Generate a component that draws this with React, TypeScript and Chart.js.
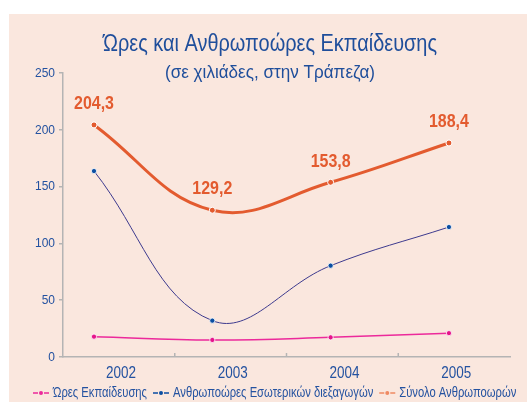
import React, { useEffect, useRef } from "react";
import { Chart, registerables } from "chart.js";

Chart.register(...registerables);

const years = ["2002", "2003", "2004", "2005"];
const hoursTraining = [17.9, 15.0, 17.3, 21.0];
const internalManHours = [163.7, 32.0, 80.4, 114.4];
const totalManHours = [204.3, 129.2, 153.8, 188.4];
const seriesNames = [
  "Ώρες Εκπαίδευσης",
  "Ανθρωποώρες Εσωτερικών διεξαγωγών",
  "Σύνολο Ανθρωποωρών",
];
const titleText = "Ώρες και Ανθρωποώρες Εκπαίδευσης";
const subtitleText = "(σε χιλιάδες, στην Τράπεζα)";
const yMin = 0;
const yMax = 250;
const yStep = 50;

const FONT = "'Liberation Sans', Arial, sans-serif";
const TEXT_BLUE = "#2452A0";
const AXIS_GRAY = "#B4B4B4";
const COLORS = {
  hours: "#EC2A9B",
  hoursPt: "#E5158A",
  internal: "#3D3A8E",
  internalPt: "#0B4EA2",
  total: "#E35B2F",
  totalLegend: "#EF8A63",
};

function narrowText(ctx: any, txt: string, x: number, y: number, sx: number, align: string) {
  ctx.save();
  ctx.translate(x, y);
  ctx.scale(sx, 1);
  ctx.textAlign = align;
  ctx.fillText(txt, 0, 0);
  ctx.restore();
}

function factorFor(ctx: any, font: string, sample: string, target: number) {
  ctx.font = font;
  return target / ctx.measureText(sample).width;
}

const decor = {
  id: "decor",
  afterDraw(chart: any) {
    const ctx = chart.ctx;
    const xs = chart.scales.x;
    const ys = chart.scales.y;
    const area = chart.chartArea;
    ctx.save();
    ctx.textBaseline = "middle";

    // title
    ctx.fillStyle = "#1F4E9B";
    let f = `23px ${FONT}`;
    let k = factorFor(ctx, f, titleText, 334);
    narrowText(ctx, titleText, 270, 45, k, "center");
    f = `18px ${FONT}`;
    k = factorFor(ctx, f, subtitleText, 210);
    narrowText(ctx, subtitleText, 270, 73, k, "center");

    // y tick labels
    ctx.fillStyle = TEXT_BLUE;
    f = `13.5px ${FONT}`;
    k = factorFor(ctx, f, "250", 20);
    ys.ticks.forEach((t: any) => {
      narrowText(ctx, String(t.value), 55, ys.getPixelForValue(t.value), k, "right");
    });

    // x tick labels
    f = `17px ${FONT}`;
    k = factorFor(ctx, f, "2002", 30);
    years.forEach((yr, i) => {
      narrowText(ctx, yr, xs.getPixelForValue(i) + 2, area.bottom + 16, k, "center");
    });

    // x tick marks between categories, pointing up
    ctx.strokeStyle = AXIS_GRAY;
    ctx.lineWidth = 1.5;
    for (let i = 0; i < years.length - 1; i++) {
      const bx = (xs.getPixelForValue(i) + xs.getPixelForValue(i + 1)) / 2;
      ctx.beginPath();
      ctx.moveTo(bx, area.bottom);
      ctx.lineTo(bx, area.bottom - 4);
      ctx.stroke();
    }

    // value labels for total
    const meta = chart.getDatasetMeta(2);
    ctx.fillStyle = COLORS.total;
    f = `bold 19px ${FONT}`;
    k = factorFor(ctx, f, "204,3", 40);
    meta.data.forEach((el: any, i: number) => {
      const txt = totalManHours[i].toFixed(1).replace(".", ",");
      narrowText(ctx, txt, el.x, el.y - 21, k, "center");
    });

    // legend
    const markerColors = [COLORS.hours, COLORS.internalPt, COLORS.totalLegend];
    f = `14px ${FONT}`;
    k = factorFor(ctx, f, seriesNames[0], 94);
    ctx.font = f;
    const widths = seriesNames.map((n) => ctx.measureText(n).width * k);
    let x = 33;
    const y = 393;
    seriesNames.forEach((n, i) => {
      const c = markerColors[i];
      ctx.strokeStyle = c;
      ctx.fillStyle = c;
      ctx.lineWidth = 1.5;
      ctx.beginPath();
      ctx.moveTo(x, y);
      ctx.lineTo(x + 5, y);
      ctx.moveTo(x + 11, y);
      ctx.lineTo(x + 16, y);
      ctx.stroke();
      ctx.beginPath();
      ctx.arc(x + 8, y, 2, 0, Math.PI * 2);
      ctx.fill();
      x += 20;
      ctx.fillStyle = TEXT_BLUE;
      narrowText(ctx, n, x, y, k, "left");
      x += widths[i] + 6;
    });
    ctx.restore();
  },
};

export default function App() {
  const ref = useRef<HTMLCanvasElement>(null);
  useEffect(() => {
    const toPts = (arr: number[]) => arr.map((v, i) => ({ x: i, y: v }));
    const chart = new Chart(ref.current!, {
      type: "line",
      data: {
        labels: years,
        datasets: [
          {
            label: seriesNames[0],
            data: toPts(hoursTraining) as any,
            xAxisID: "x2",
            borderColor: COLORS.hours,
            borderWidth: 1.5,
            pointBackgroundColor: COLORS.hoursPt,
            pointBorderColor: "#ffffff",
            pointBorderWidth: 0.8,
            pointRadius: 2.6,
            tension: 0.4,
          },
          {
            label: seriesNames[1],
            data: toPts(internalManHours) as any,
            xAxisID: "x2",
            borderColor: COLORS.internal,
            borderWidth: 1,
            pointBackgroundColor: COLORS.internalPt,
            pointBorderColor: "#ffffff",
            pointBorderWidth: 0.8,
            pointRadius: 2.6,
            tension: 0.4,
          },
          {
            label: seriesNames[2],
            data: toPts(totalManHours) as any,
            xAxisID: "x2",
            borderColor: COLORS.total,
            borderWidth: 3,
            pointBackgroundColor: COLORS.total,
            pointBorderColor: "#ffffff",
            pointBorderWidth: 1,
            pointRadius: 3,
            tension: 0.4,
          },
        ],
      },
      options: {
        animation: false,
        responsive: false,
        layout: { padding: { left: 0, right: 17, top: 73, bottom: 20 } },
        plugins: {
          legend: { display: false },
          tooltip: { enabled: false },
          title: { display: false },
        },
        elements: { line: { capBezierPoints: false } },
        scales: {
          x: {
            type: "category",
            offset: true,
            grid: { display: false },
            border: { display: true, color: AXIS_GRAY, width: 1.5 },
            ticks: { display: false },
            afterFit: (s: any) => {
              s.height = 25;
            },
          },
          x2: {
            type: "linear",
            display: false,
            min: -0.262,
            max: 3.516,
          },
          y: {
            min: yMin,
            max: yMax,
            ticks: { stepSize: yStep, display: false },
            grid: { drawOnChartArea: false, tickLength: 4, color: AXIS_GRAY, lineWidth: 1.5 },
            border: { display: true, color: AXIS_GRAY, width: 1.5 },
            afterFit: (s: any) => {
              s.width = 63;
            },
          },
        },
      },
      plugins: [decor],
    });
    return () => chart.destroy();
  }, []);

  return (
    <div style={{ position: "fixed", left: 0, top: 0, width: 527, height: 402, background: "#ffffff", overflow: "hidden" }}>
      <div style={{ position: "absolute", left: 9, top: 14, width: 518, height: 388, background: "#FAE7DE" }} />
      <canvas ref={ref} width={527} height={402} style={{ position: "absolute", left: 0, top: 0, width: 527, height: 402 }} />
    </div>
  );
}
